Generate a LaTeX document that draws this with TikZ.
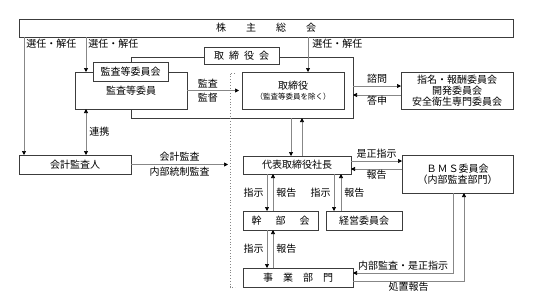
\documentclass[tikz,border=0pt]{standalone}
\usepackage{fontspec}
\setmainfont{Noto Sans CJK JP}
\usetikzlibrary{arrows.meta}
\definecolor{boxgray}{RGB}{60,60,60}
\definecolor{linegray}{RGB}{135,135,135}

\tikzset{
  box/.style={draw=boxgray, fill=white, line width=0.7pt, inner sep=0pt,
    outer sep=0pt, align=center, font=\fontsize{10}{11}\selectfont},
  arr/.style={draw=linegray, line width=0.7pt,
    -{Triangle[length=4pt,width=4pt,color=black]}},
  lbl/.style={font=\fontsize{10}{11}\selectfont, inner sep=1pt},
}

\begin{document}
\begin{tikzpicture}[x=1pt, y=-1pt]
  \useasboundingbox (0,0) rectangle (533,306);

  % Board frame (behind everything)
  \node[box, fill=none, minimum width=222pt, minimum height=61pt] (frame) at (242,87.5) {};
  \node[box, minimum width=75pt, minimum height=17pt] (boardlbl) at (241.5,55.5)
    {取\hspace{5pt}締\hspace{5pt}役\hspace{5pt}会};

  % Shareholders
  \node[box, minimum width=494pt, minimum height=18pt] (kabu) at (266,28)
    {株\hspace{20pt}主\hspace{20pt}総\hspace{20pt}会};

  % Audit committee
  \node[box, minimum width=112pt, minimum height=37pt] (kansa) at (131,90.5)
    {\raisebox{-4pt}{監査等委員}};
  \node[box, minimum width=75pt, minimum height=19pt] (kansakai) at (130.5,71.5) {監査等委員会};

  % Directors and committees
  \node[box, minimum width=102pt, minimum height=37pt] (tori) at (293,90.5)
    {取締役\\[-1pt]{\fontsize{7.5}{9}\selectfont （監査等委員を除く）}};
  \node[box, minimum width=112pt, minimum height=37pt] (iinkai) at (457,90.5)
    {指名・報酬委員会\\開発委員会\\安全衛生専門委員会};

  % Lower part
  \node[box, minimum width=112pt, minimum height=19pt] (kaikei) at (75,164.5) {会計監査人};
  \node[box, minimum width=108pt, minimum height=18pt] (daihyo) at (297,165) {代表取締役社長};
  \node[box, minimum width=111pt, minimum height=38pt] (bms) at (457.5,174)
    {Ｂ\hspace{1pt}Ｍ\hspace{1pt}Ｓ委員会\\（内部監査部門）};
  \node[box, minimum width=75pt, minimum height=19pt] (kanbu) at (280.5,220.5)
    {幹\hspace{14pt}部\hspace{14pt}会};
  \node[box, minimum width=76pt, minimum height=19pt] (keiei) at (364,220.5) {経営委員会};
  \node[box, minimum width=110pt, minimum height=19pt] (jigyo) at (298,277.5)
    {事\hspace{10pt}業\hspace{10pt}部\hspace{10pt}門};

  % Dotted bracket
  \draw[linegray, dotted, line width=0.8pt] (235,73) -| (230,287) -- (235,287);
  \coordinate (auditend) at (228,164.5);

  % Elections from shareholders
  \draw[arr] (kabu.south -| 24,0) -- (kaikei.north -| 24,0)
    node[lbl, pos=0, anchor=north west, xshift=1pt, yshift=-1pt] {選任・解任};
  \draw[arr] (kabu.south -| 86,0) -- (kansa.north -| 86,0)
    node[lbl, pos=0, anchor=north west, xshift=1pt, yshift=-1pt] {選任・解任};
  \draw[arr] (kabu.south -| 308,0) -- (tori.north -| 308,0)
    node[lbl, pos=0, anchor=north west, xshift=3pt, yshift=-1pt] {選任・解任};

  % Cooperation
  \draw[arr, {Triangle[length=4pt,width=4pt,color=black]}-{Triangle[length=4pt,width=4pt,color=black]}]
    (kansa.south -| 86,0) -- (kaikei.north -| 86,0)
    node[lbl, midway, right=2pt] {連携};

  % Audit and supervision
  \draw[arr, shorten >=3pt] (kansa.east) -- (tori.west)
    node[lbl, pos=0.38, above=1.5pt] {監査}
    node[lbl, pos=0.38, below=1.5pt] {監督};
  \draw[arr] (kaikei.east) -- (auditend)
    node[lbl, midway, above=1.5pt] {会計監査}
    node[lbl, midway, below=1pt] {内部統制監査};

  % Board <-> president
  \draw[arr] (frame.south -| 291,0) -- (daihyo.north -| 291,0);
  \draw[arr] (daihyo.north -| 302,0) -- (frame.south -| 302,0);

  % Consultation
  \draw[arr] (frame.east |- 0,86) -- (iinkai.west |- 0,86)
    node[lbl, midway, above=1.5pt] {諮問};
  \draw[arr] (iinkai.west |- 0,95) -- (frame.east |- 0,95)
    node[lbl, midway, below=0pt] {答申};

  % BMS <-> president
  \draw[arr] (daihyo.east |- 0,161) -- (bms.west |- 0,161)
    node[lbl, midway, above=1pt] {是正指示};
  \draw[arr] (bms.west |- 0,169) -- (daihyo.east |- 0,169)
    node[lbl, midway, below=0pt] {報告};

  % Instructions and reports
  \foreach \upper/\lower/\xa/\xb in {daihyo/kanbu/267/273, daihyo/keiei/334/341, kanbu/jigyo/267/273}{
    \draw[arr] (\upper.south -| \xa,0) -- (\lower.north -| \xa,0)
      node[lbl, midway, left=2pt] {指示};
    \draw[arr] (\lower.north -| \xb,0) -- (\upper.south -| \xb,0)
      node[lbl, midway, right=2pt] {報告};
  }

  % Internal audit
  \draw[arr] (bms.south -| 453,0) |- (jigyo.east |- 0,273)
    node[lbl, pos=0.75, above=1pt] {内部監査・是正指示};
  \draw[arr] (jigyo.east |- 0,281) -| (bms.south -| 464,0)
    node[lbl, pos=0.25, below=0pt] {処置報告};
\end{tikzpicture}
\end{document}
